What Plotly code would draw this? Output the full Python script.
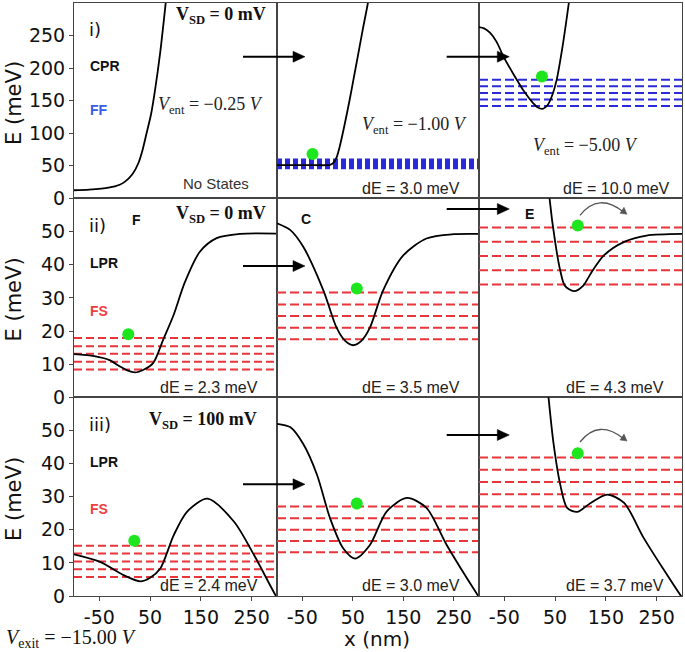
import plotly.graph_objects as go
from plotly.subplots import make_subplots

# ---------------- data ----------------
X_RANGE = [-100, 300]
E_RANGE_TOP = [0, 300]
E_RANGE_LOW = [0, 60]
x_ticks = [-50, 50, 150, 250]
x_tick_text = ["-50", "50", "150", "250"]
e_ticks_top = [0, 50, 100, 150, 200, 250]
e_ticks_low = [0, 10, 20, 30, 40, 50]

# row i) CPR, V_SD = 0 mV
x_i1 = [-100, -70, -32, -10, 0.5, 15, 26.8, 35, 43, 52, 59.6, 70, 80.7, 86]
E_i1 = [12.5, 13.5, 16.4, 21, 25.7, 37, 54, 74, 100, 130, 166, 225, 300, 340]
x_i2 = [-100, -40, 0, 5, 12, 18, 24, 33, 43.8, 52, 60, 70, 80, 85]
E_i2 = [51, 51, 51, 51.5, 55, 63, 79, 110, 151, 185, 218, 260, 300, 325]
x_i3 = [-100, -90, -78, -65, -52, -30, -12.7, 7, 15, 25.5, 35, 45, 53, 65, 77, 82]
E_i3 = [263, 261, 254, 240, 218, 188, 166, 146, 140, 137.5, 143, 160, 182, 235, 300, 330]
lev_i2 = [47, 50, 53, 56, 59]
lev_i3 = [142, 152, 162, 172, 182]
dot_i2 = (-29.7, 68)
dot_i3 = (24, 187)

# row ii) LPR, V_SD = 0 mV
x_ii1 = [-100, -60, -30, -9.4, 5, 20.2, 38, 56.3, 76, 95.7, 118.7, 148, 181, 227, 300]
E_ii1 = [13, 12.4, 11.2, 9.3, 8.1, 7.5, 8.4, 10.4, 17.5, 24.6, 34.8, 43.9, 48, 49.3, 49.4]
x_ii2 = [-100, -74, -48, -8, 18, 35, 51, 67, 84, 110, 150, 196, 250, 300]
E_ii2 = [52.5, 50.5, 45.4, 32.2, 21, 17, 15.7, 17, 21, 32.2, 42.8, 47.9, 49.2, 49.3]
x_ii3 = [36, 39, 50.5, 60, 69, 87, 105.5, 120, 146, 186, 230, 300]
E_ii3 = [66, 60, 46.4, 38.3, 33.7, 32, 33.7, 37.3, 42.8, 46.9, 48.8, 49.3]
lev_ii1 = [8.4, 10.7, 13.1, 15.4, 17.9]
lev_ii2 = [17.5, 21.0, 24.5, 28.0, 31.6]
lev_ii3 = [34.0, 38.3, 42.6, 46.9, 51.2]
dot_ii1 = (7, 19)
dot_ii2 = (58, 32.8)
dot_ii3 = (94.6, 51.8)

# row iii) LPR, V_SD = 100 mV
x_iii1 = [-100, -48.5, -2.4, 30.7, 50, 70, 96.6, 123, 163, 215, 255, 298, 303]
E_iii1 = [12.6, 10.3, 6.3, 4.4, 5.5, 8.3, 18.4, 25.5, 29.4, 22.5, 12.3, 0, -1]
x_iii2 = [-100, -74, -48, -21, 5, 31, 54.5, 84, 117, 157, 196, 236, 298.6, 303]
E_iii2 = [52, 51, 45.9, 36.7, 23.5, 14.4, 11.3, 15.4, 25.5, 29.6, 26.6, 15.4, 0, -1]
x_iii3 = [34, 37, 47, 60, 73.7, 93.5, 120, 153, 186, 225, 298, 303]
E_iii3 = [65, 60, 45.9, 33.7, 26.6, 25.4, 28.1, 30.6, 28.1, 17.4, 0, -1]
lev_iii1 = [5.7, 8.1, 10.4, 12.8, 15.2]
lev_iii2 = [13.2, 16.6, 20.0, 23.5, 27.0]
lev_iii3 = [27.0, 30.7, 34.4, 38.1, 41.8]
dot_iii1 = (18.8, 16.7)
dot_iii2 = (58, 27.9)
dot_iii3 = (94.6, 43.1)

dE_labels = [["", "dE = 3.0 meV", "dE = 10.0 meV"],
             ["dE = 2.3 meV", "dE = 3.5 meV", "dE = 4.3 meV"],
             ["dE = 2.4 meV", "dE = 3.0 meV", "dE = 3.7 meV"]]
vent_labels = ["\u22120.25", "\u22121.00", "\u22125.00"]
vsd_labels = ["0", "0", "100"]
row_labels = ["i)", "ii)", "iii)"]
vexit_label = "\u221215.00"

# ---------------- figure ----------------
W, H = 685, 652
L, R, T, B = 74, 682, 3, 596

fig = make_subplots(rows=3, cols=3, horizontal_spacing=0, vertical_spacing=0,
                    row_heights=[195.4, 198.9, 198.7], column_widths=[203, 202, 203])

BLUE = "#2a2ad8"
RED = "#e8353a"
GREEN = "#1ee61e"


def add_levels(levels, row, col, color, width, dash):
    xs, ys = [], []
    for e in levels:
        xs += [X_RANGE[0], X_RANGE[1], None]
        ys += [e, e, None]
    fig.add_trace(go.Scatter(x=xs, y=ys, mode="lines",
                             line=dict(color=color, width=width, dash=dash),
                             hoverinfo="skip", showlegend=False), row=row, col=col)


def add_curve(xv, ev, row, col):
    fig.add_trace(go.Scatter(x=xv, y=ev, mode="lines",
                             line=dict(color="black", width=1.8, shape="spline", smoothing=0.8),
                             showlegend=False), row=row, col=col)


def add_dot(d, row, col):
    fig.add_trace(go.Scatter(x=[d[0]], y=[d[1]], mode="markers",
                             marker=dict(color=GREEN, size=12, line=dict(width=0)),
                             showlegend=False), row=row, col=col)


# row 1
add_curve(x_i1, E_i1, 1, 1)
add_levels(lev_i2, 1, 2, BLUE, 2.8, "5px,3px")
add_curve(x_i2, E_i2, 1, 2)
add_dot(dot_i2, 1, 2)
add_levels(lev_i3, 1, 3, BLUE, 2, "9px,4px")
add_curve(x_i3, E_i3, 1, 3)
add_dot(dot_i3, 1, 3)
# row 2
add_levels(lev_ii1, 2, 1, RED, 2, "8px,4px")
add_curve(x_ii1, E_ii1, 2, 1)
add_dot(dot_ii1, 2, 1)
add_levels(lev_ii2, 2, 2, RED, 2, "9px,4px")
add_curve(x_ii2, E_ii2, 2, 2)
add_dot(dot_ii2, 2, 2)
add_levels(lev_ii3, 2, 3, RED, 2, "9px,4px")
add_curve(x_ii3, E_ii3, 2, 3)
add_dot(dot_ii3, 2, 3)
# row 3
add_levels(lev_iii1, 3, 1, RED, 2, "8px,4px")
add_curve(x_iii1, E_iii1, 3, 1)
add_dot(dot_iii1, 3, 1)
add_levels(lev_iii2, 3, 2, RED, 2, "9px,4px")
add_curve(x_iii2, E_iii2, 3, 2)
add_dot(dot_iii2, 3, 2)
add_levels(lev_iii3, 3, 3, RED, 2, "9px,4px")
add_curve(x_iii3, E_iii3, 3, 3)
add_dot(dot_iii3, 3, 3)

TICKFONT = dict(family="DejaVu Sans", size=19, color="#111")
for r in range(1, 4):
    for c in range(1, 4):
        fig.update_xaxes(range=X_RANGE, showgrid=False, zeroline=False, showline=True, mirror=True,
                         linecolor="#444", linewidth=1, tickvals=x_ticks, ticktext=x_tick_text,
                         ticks="outside" if r == 3 else "", ticklen=4, tickcolor="#444",
                         showticklabels=(r == 3), tickfont=TICKFONT, row=r, col=c)
        fig.update_yaxes(range=E_RANGE_TOP if r == 1 else E_RANGE_LOW,
                         tickvals=e_ticks_top if r == 1 else e_ticks_low,
                         showgrid=False, zeroline=False, showline=True, mirror=True,
                         linecolor="#444", linewidth=1,
                         ticks="outside" if c == 1 else "", ticklen=4, tickcolor="#444",
                         showticklabels=(c == 1), tickfont=TICKFONT, row=r, col=c)


def P(px, py):
    return (px - L) / (R - L), (B - py) / (B - T)


annos = []
shapes = []


def txt(text, px, py, xanchor="left", size=14, family="Liberation Sans", color="#111", angle=0):
    x, y = P(px, py)
    annos.append(dict(text=text, x=x, y=y, xref="paper", yref="paper", xanchor=xanchor,
                      yanchor="middle", showarrow=False, textangle=angle,
                      font=dict(family=family, size=size, color=color)))


# axis titles as text
for cy in (103.5, 300, 499.5):
    txt("E (meV)", 13.5, cy, xanchor="center", size=21, family="DejaVu Sans", angle=-90)
txt("x (nm)", 377, 639, xanchor="center", size=20, family="DejaVu Sans")
txt("<i>V</i><sub>exit</sub> = " + vexit_label + " <i>V</i>", 4, 638, xanchor="left", size=20,
    family="Liberation Serif")

# row labels
row_cy = [29, 225, 424]
for i in range(3):
    txt(row_labels[i], 87, row_cy[i], size=18, family="DejaVu Sans")
vsd_pos = [(268, 16), (268, 215), (259, 420)]
for i in range(3):
    txt("<b>V<sub>SD</sub> = " + vsd_labels[i] + " mV</b>", vsd_pos[i][0], vsd_pos[i][1],
        xanchor="right", size=18, family="Liberation Serif")
txt("<b>CPR</b>", 88, 66, size=14)
txt("<b>FF</b>", 88, 110, size=14, color="#3a5ae8")
txt("<b>LPR</b>", 88, 263, size=14)
txt("<b>FS</b>", 88, 311, size=14, color="#f04040")
txt("<b>LPR</b>", 88, 462, size=14)
txt("<b>FS</b>", 88, 509, size=14, color="#f04040")
txt("<b>F</b>", 136, 220, xanchor="center", size=14)
txt("<b>C</b>", 306, 219, xanchor="center", size=14)
txt("<b>E</b>", 529, 214, xanchor="center", size=14)
txt("No States", 216, 183, xanchor="center", size=15, color="#333")

vent_pos = [(265, 106), (469, 125), (640, 147)]
for i in range(3):
    txt("<i>V</i><sub>ent</sub> = " + vent_labels[i] + " <i>V</i>", vent_pos[i][0], vent_pos[i][1],
        xanchor="right", size=18, family="Liberation Serif", color="#222")

dE_right = [260, 462, 666]
dE_y = [188.5, 387, 585]
for r in range(3):
    for c in range(3):
        if dE_labels[r][c]:
            txt(dE_labels[r][c], dE_right[c] + (6 if c == 2 and r == 0 else 0), dE_y[r],
                xanchor="right", size=16, color="#222")


# straight black arrows between panels
def arrow(px0, px1, py):
    x0, y0 = P(px0, py)
    x1, y1 = P(px1 - 9, py)
    shapes.append(dict(type="line", xref="paper", yref="paper", x0=x0, y0=y0, x1=x1, y1=y1,
                       line=dict(color="black", width=2)))
    a = P(px1, py)
    b = P(px1 - 12, py - 5.5)
    c = P(px1 - 12, py + 5.5)
    shapes.append(dict(type="path", xref="paper", yref="paper",
                       path=f"M{a[0]},{a[1]} L{b[0]},{b[1]} L{c[0]},{c[1]} Z",
                       fillcolor="black", line=dict(color="black", width=0.5)))


for py in (56.7, 266, 484.3):
    arrow(243, 305, py)
for py in (56.7, 209, 435):
    arrow(446.7, 509.3, py)


# curved grey arrows ("escape")
def curved(py_dot):
    p0 = (580, py_dot - 12)
    pk = (601, py_dot - 24)
    p2 = (627, py_dot - 13)
    cx = 2 * pk[0] - 0.5 * (p0[0] + p2[0])
    cy = 2 * pk[1] - 0.5 * (p0[1] + p2[1])
    a, cc, b = P(*p0), P(cx, cy), P(p2[0] - 3, p2[1] - 2)
    shapes.append(dict(type="path", xref="paper", yref="paper",
                       path=f"M{a[0]},{a[1]} Q{cc[0]},{cc[1]} {b[0]},{b[1]}",
                       line=dict(color="#555", width=1.3)))
    tip = P(*p2)
    h1 = P(p2[0] - 7, p2[1] - 1)
    h2 = P(p2[0] - 3, p2[1] - 7)
    shapes.append(dict(type="path", xref="paper", yref="paper",
                       path=f"M{tip[0]},{tip[1]} L{h1[0]},{h1[1]} L{h2[0]},{h2[1]} Z",
                       fillcolor="#555", line=dict(color="#555", width=0.5)))


curved(227.3)
curved(454)

fig.update_layout(width=W, height=H, margin=dict(l=L, r=W - R, t=T, b=H - B),
                  paper_bgcolor="white", plot_bgcolor="white", showlegend=False,
                  annotations=annos, shapes=shapes)

fig.write_html("out.html", config={"displayModeBar": False},
               post_script="document.body.style.margin='0px';document.body.style.overflow='hidden';")
